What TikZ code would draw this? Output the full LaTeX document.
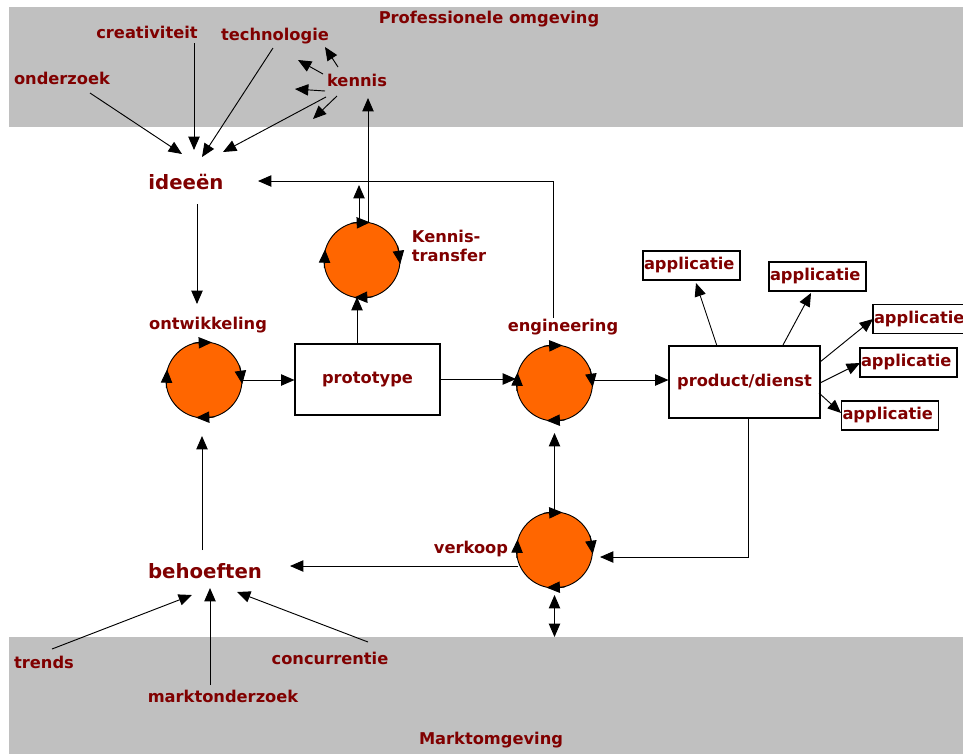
\documentclass[tikz,border=0pt]{standalone}
\usepackage{fontspec}
\setmainfont{DejaVu Sans}
\usetikzlibrary{arrows.meta}
\definecolor{dred}{HTML}{800000}
\definecolor{band}{HTML}{C0C0C0}
\definecolor{orng}{HTML}{FF6600}
\newcommand\spinarrows[1]{%
  \draw[ptr] (#1.106) -- (#1.78);
  \draw[ptr] (#1.22) -- (#1.-6);
  \draw[ptr] (#1.-74) -- (#1.-102);
  \draw[ptr] (#1.192) -- (#1.164);
}
\begin{document}
\begin{tikzpicture}[x=0.75pt,y=-0.75pt,
  lbl/.style={text=dred,font=\bfseries\fontsize{12.2}{14.5}\selectfont,inner sep=0pt},
  big/.style={text=dred,font=\bfseries\fontsize{14.8}{17}\selectfont,inner sep=0pt},
  ptr/.style={-{Triangle[length=10pt,width=8.5pt]},line width=0.7pt},
  dptr/.style={{Triangle[length=10pt,width=8.5pt]}-{Triangle[length=10pt,width=8.5pt]},line width=0.7pt},
  proc/.style={circle,draw,fill=orng,minimum size=57pt,inner sep=0pt,line width=0.7pt},
  bigbox/.style={draw,fill=white,line width=0.8pt,text=dred,font=\bfseries\fontsize{12.2}{14.5}\selectfont},
  appbox/.style={draw,fill=white,line width=0.8pt,text=dred,font=\bfseries\fontsize{12.2}{14.5}\selectfont,
     text width=71.25pt,inner xsep=0.75pt,inner ysep=0pt,minimum height=21.75pt,align=left}]
\useasboundingbox (0,0) rectangle (963,754);
\fill[band] (9,7) rectangle (963,127);
\fill[band] (9,637) rectangle (963,754);

% labels
\node[lbl] (prof) at (489,19) {Professionele omgeving};
\node[lbl] (crea) at (147,32) {creativiteit};
\node[lbl] (tech) at (275,36) {technologie};
\node[lbl] (onder) at (62,78) {onderzoek};
\node[lbl] (kennis) at (357,80) {kennis};
\node[big] (idee) at (186,182) {ideeën};
\node[lbl] (ontlbl) at (208,325) {ontwikkeling};
\node[lbl,align=left] (ktlbl) at (449,246) {Kennis-\\transfer};
\node[lbl] (englbl) at (563,327) {engineering};
\node[lbl] (vklbl) at (471,549) {verkoop};
\node[big] (beh) at (205,571) {behoeften};
\node[lbl] (trends) at (44,662) {trends};
\node[lbl] (markt) at (223,696) {marktonderzoek};
\node[lbl] (conc) at (330,658) {concurrentie};
\node[lbl] (mo) at (491,740) {Marktomgeving};

% process circles
\node[proc] (ont) at (204,380) {};
\node[proc] (kt) at (362,260) {};
\node[proc] (eng) at (554.5,383) {};
\node[proc] (vk) at (554.5,550) {};

% boxes
\node[bigbox,minimum width=108.75pt,minimum height=53.25pt] (proto) at (367.5,379.5) {prototype};
\node[bigbox,minimum width=113.25pt,minimum height=54pt] (prod) at (744.5,382) {product/dienst};
\node[appbox] (a1) at (691.5,265.5) {applicatie};
\node[appbox] (a2) at (817.5,276.5) {applicatie};
\node[appbox] (a3) at (921.5,319) {applicatie};
\node[appbox] (a4) at (908.5,362.5) {applicatie};
\node[appbox] (a5) at (890,415.5) {applicatie};

% coordinates for free ends
\coordinate (onS) at (90,93);   \coordinate (onT) at (182,154);
\coordinate (crS) at (194,43);  \coordinate (crT) at (194,150);
\coordinate (teS) at (273,48);  \coordinate (teT) at (202,157);
\coordinate (keS) at (326,97);  \coordinate (keT) at (223,152);
\coordinate (k1S) at (323,74);  \coordinate (k1T) at (298,60);
\coordinate (k2S) at (325,91);  \coordinate (k2T) at (295,89);
\coordinate (k3S) at (337,96);  \coordinate (k3T) at (313,119);
\coordinate (k4S) at (338,67);  \coordinate (k4T) at (325,47);
\coordinate (idS) at (197,204); \coordinate (idT) at (197,304);
\coordinate (ktUp) at (368,98);
\coordinate (ktS) at (359,185);
\coordinate (prS) at (357,344); \coordinate (prT) at (357,297);
\coordinate (egS) at (553,318); \coordinate (egC) at (553,181); \coordinate (egT) at (258,181);
\coordinate (p1S) at (717,346); \coordinate (p1T) at (696,283);
\coordinate (p2S) at (783,345); \coordinate (p2T) at (811,293);
\coordinate (p3S) at (820,362); \coordinate (p3T) at (873,319);
\coordinate (p4S) at (820,383); \coordinate (p4T) at (860,363);
\coordinate (p5S) at (819,393); \coordinate (p5T) at (841,413);
\coordinate (pdS) at (748,418); \coordinate (pdC) at (748,557); \coordinate (pdT) at (600,557);
\coordinate (vkS) at (518,566); \coordinate (vkT) at (290,566);
\coordinate (engT) at (554.5,433);
\coordinate (vkB) at (554.5,595); \coordinate (bandT) at (554.5,637);
\coordinate (beS) at (202,550); \coordinate (beT) at (202,436);
\coordinate (trS) at (52,649);  \coordinate (trT) at (192,595);
\coordinate (maS) at (210,685); \coordinate (maT) at (210,588);
\coordinate (coS) at (368,642); \coordinate (coT) at (237,592);

% connectors
\draw[ptr] (onS) -- (onT);
\draw[ptr] (crS) -- (crT);
\draw[ptr] (teS) -- (teT);
\draw[ptr] (keS) -- (keT);
\draw[ptr] (k1S) -- (k1T);
\draw[ptr] (k2S) -- (k2T);
\draw[ptr] (k3S) -- (k3T);
\draw[ptr] (k4S) -- (k4T);
\draw[ptr] (idS) -- (idT);
\draw[ptr] (kt.north -| ktUp) -- (ktUp);
\draw[ptr] (kt.north -| ktS) -- (ktS);
\draw[ptr] (prS) -- (prT);
\draw[ptr] (egS) -- (egC) -- (egT);
\draw[ptr] (ont.east) -- (proto.west |- ont.east);
\draw[ptr] (proto.east |- 0,379) -- (eng.west |- 0,379);
\draw[ptr] (eng.east |- 0,380) -- (prod.west |- 0,380);
\draw[ptr] (p1S) -- (p1T);
\draw[ptr] (p2S) -- (p2T);
\draw[ptr] (p3S) -- (p3T);
\draw[ptr] (p4S) -- (p4T);
\draw[ptr] (p5S) -- (p5T);
\draw[ptr] (pdS) -- (pdC) -- (pdT);
\draw[ptr] (vk.north) -- (engT);
\draw[ptr] (vkS) -- (vkT);
\draw[dptr] (vkB) -- (bandT);
\draw[ptr] (beS) -- (beT);
\draw[ptr] (trS) -- (trT);
\draw[ptr] (maS) -- (maT);
\draw[ptr] (coS) -- (coT);

% rotation arrows on the circles
\spinarrows{ont}
\spinarrows{kt}
\spinarrows{eng}
\spinarrows{vk}
\end{tikzpicture}
\end{document}
